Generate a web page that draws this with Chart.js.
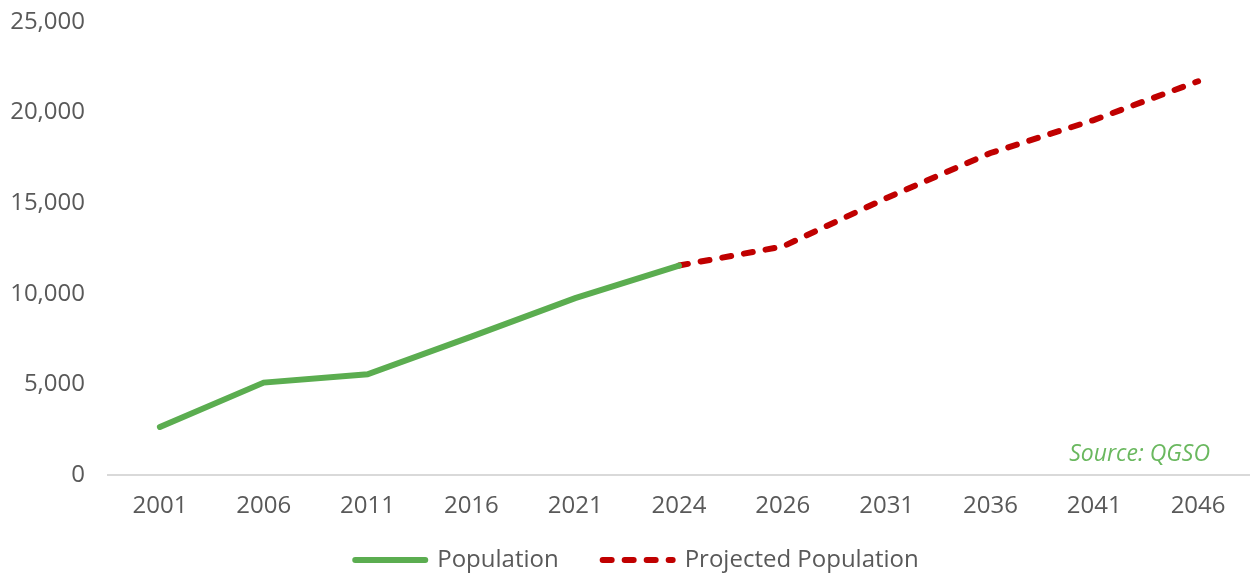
<!DOCTYPE html>
<html>
<head>
<meta charset="utf-8">
<script src="https://cdn.jsdelivr.net/npm/chart.js@4"></script>
<style>
  body { margin: 0; background: #fff; }
  #wrap { width: 1250px; height: 573px; }
</style>
</head>
<body>
<div id="wrap"><canvas id="popChart"></canvas></div>
<script>
// years on the category axis
const years = ['2001', '2006', '2011', '2016', '2021', '2024', '2026', '2031', '2036', '2041', '2046'];
// observed population (ends at 2024)
const population = [2650, 5100, 5560, 7640, 9760, 11560, null, null, null, null, null];
// QGSO projection (starts at 2024)
const projected = [null, null, null, null, null, 11560, 12610, 15290, 17770, 19600, 21730];
const yTicks = [0, 5000, 10000, 15000, 20000, 25000];

const FONT = "'Open Sans', sans-serif";
const GREY = '#595959';

// writes the source note just above the x axis, right side
const sourceNote = {
  id: 'sourceNote',
  afterDraw(chart) {
    const { ctx, chartArea } = chart;
    ctx.save();
    ctx.font = "italic 23px " + FONT;
    ctx.fillStyle = '#6ab85f';
    ctx.textAlign = 'right';
    ctx.textBaseline = 'middle';
    ctx.fillText('Source: QGSO', chartArea.right - 40, chartArea.bottom - 21);
    ctx.restore();
  }
};

// the legend needs wide gaps between items but must sit close under the axis
const legendNudge = {
  id: 'legendNudge',
  afterLayout(chart) {
    const lg = chart.legend;
    lg.top = 504;
    lg.left += 12;
    lg.right += 12;
  }
};

new Chart(document.getElementById('popChart'), {
  type: 'line',
  data: {
    labels: years,
    datasets: [
      {
        label: 'Population',
        data: population,
        borderColor: '#5bad50',
        backgroundColor: '#5bad50',
        borderWidth: 6,
        borderCapStyle: 'round',
        pointRadius: 0,
        tension: 0
      },
      {
        label: 'Projected Population',
        data: projected,
        borderColor: '#c00000',
        backgroundColor: '#c00000',
        borderWidth: 6,
        borderDash: [9, 13],
        borderCapStyle: 'round',
        pointRadius: 0,
        tension: 0
      }
    ]
  },
  options: {
    responsive: true,
    maintainAspectRatio: false,
    animation: false,
    layout: { padding: 0 },
    scales: {
      x: {
        offset: true,
        grid: { display: false, drawTicks: false },
        border: { color: '#d9d9d9', width: 2 },
        ticks: { color: GREY, font: { family: FONT, size: 24 }, padding: 17 },
        afterFit: (axis) => { axis.height = 46; }
      },
      y: {
        min: 0,
        max: 25000,
        afterBuildTicks: (axis) => { axis.ticks = yTicks.map(v => ({ value: v })); },
        afterFit: (axis) => {
          axis.width = 108;
          axis.paddingTop = 22;
          axis.paddingBottom = 0;
        },
        grid: { display: false, drawTicks: false },
        border: { display: false },
        ticks: {
          color: GREY,
          font: { family: FONT, size: 24 },
          padding: 23,
          callback: (v) => Number(v).toLocaleString('en-US')
        }
      }
    },
    plugins: {
      legend: {
        position: 'bottom',
        maxHeight: 52,
        labels: {
          color: GREY,
          font: { family: FONT, size: 24 },
          usePointStyle: true,
          pointStyleWidth: 70,
          padding: 44,
          generateLabels: (chart) => chart.data.datasets.map((ds, i) => ({
            text: ds.label,
            datasetIndex: i,
            strokeStyle: ds.borderColor,
            fillStyle: ds.borderColor,
            fontColor: GREY,
            lineWidth: 6,
            lineCap: 'round',
            lineDash: ds.borderDash || [],
            pointStyle: 'line',
            hidden: false
          }))
        }
      },
      tooltip: { enabled: false }
    }
  },
  plugins: [sourceNote, legendNudge]
});
</script>
</body>
</html>
